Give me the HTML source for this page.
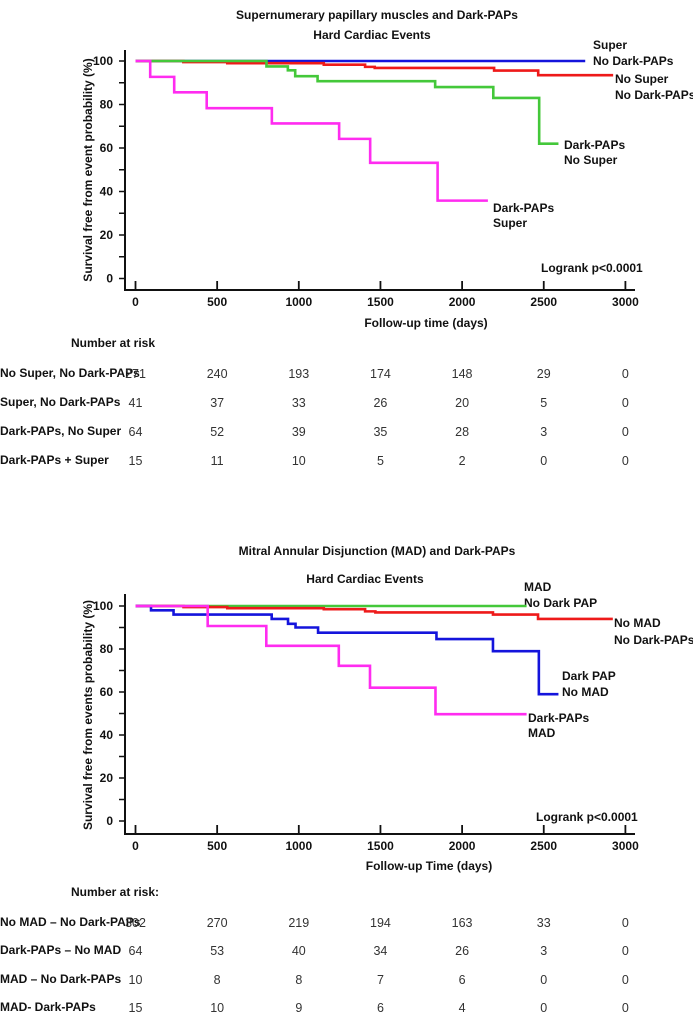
<!DOCTYPE html>
<html><head><meta charset="utf-8"><style>
body{margin:0;background:#fff}
svg{display:block;font-family:"Liberation Sans",Arial,sans-serif}
.b{font-weight:bold;font-size:12px;fill:#111}
.n{font-size:12.5px;fill:#333}
</style></head><body>
<svg id="svg" width="693" height="1014" viewBox="0 0 693 1014">
<text class="b" x="377" y="19" text-anchor="middle">Supernumerary papillary  muscles and Dark-PAPs</text>
<text class="b" x="372" y="39" text-anchor="middle">Hard Cardiac Events</text>
<text class="b" x="0" y="0" transform="translate(92,170) rotate(-90)" text-anchor="middle">Survival free from event probability (%)</text>
<text class="b" x="426" y="327" text-anchor="middle">Follow-up time (days)</text>
<text class="b" x="541" y="272">Logrank p&lt;0.0001</text>
<g class="b">
<text x="593" y="49">Super</text>
<text x="593" y="65">No Dark-PAPs</text>
<text x="615" y="83">No Super</text>
<text x="615" y="99">No Dark-PAPs</text>
<text x="564" y="149">Dark-PAPs</text>
<text x="564" y="164">No Super</text>
<text x="493" y="212">Dark-PAPs</text>
<text x="493" y="227">Super</text>
</g>
<text class="b" x="113" y="347" text-anchor="middle">Number at risk</text>

<text class="b" x="377" y="555" text-anchor="middle">Mitral Annular Disjunction (MAD) and Dark-PAPs</text>
<text class="b" x="365" y="583" text-anchor="middle">Hard Cardiac Events</text>
<text class="b" x="0" y="0" transform="translate(92,715) rotate(-90)" text-anchor="middle">Survival free from events probability (%)</text>
<text class="b" x="429" y="870" text-anchor="middle">Follow-up Time (days)</text>
<text class="b" x="536" y="821">Logrank p&lt;0.0001</text>
<g class="b">
<text x="524" y="591">MAD</text>
<text x="524" y="607">No Dark PAP</text>
<text x="614" y="627">No MAD</text>
<text x="614" y="644">No Dark-PAPs</text>
<text x="562" y="680">Dark PAP</text>
<text x="562" y="696">No MAD</text>
<text x="528" y="722">Dark-PAPs</text>
<text x="528" y="737">MAD</text>
</g>
<text class="b" x="115" y="896" text-anchor="middle">Number at risk:</text>
</svg>
<script>
// ---- data: top chart ----
const xTicks = [0, 500, 1000, 1500, 2000, 2500, 3000];
const yTicks = [0, 20, 40, 60, 80, 100];
const topNames = ["super-no-dark", "nosuper-nodark", "dark-nosuper", "dark-super"];
const topColors = ["#1414dc", "#ee1a1a", "#44c83a", "#ff2cf0"];
const topTimes = [
  [0, 2754],
  [0, 293, 562, 1153, 1406, 1465, 2196, 2466, 2925],
  [0, 802, 933, 978, 1115, 1835, 2191, 2472, 2590],
  [0, 90, 237, 436, 835, 1247, 1437, 1850, 2158]
];
const topSurv = [
  [100, 100],
  [100, 99.5, 99, 98.3, 97.3, 96.8, 95.6, 93.5, 93.5],
  [100, 97.5, 95.7, 93, 90.7, 88, 83, 62, 62],
  [100, 92.7, 85.6, 78.3, 71.3, 64.2, 53.2, 35.8, 35.8]
];
const topRiskLabels = ["No Super, No Dark-PAPs", "Super, No Dark-PAPs", "Dark-PAPs, No Super", "Dark-PAPs + Super"];
const topRisk = [
  [271, 240, 193, 174, 148, 29, 0],
  [41, 37, 33, 26, 20, 5, 0],
  [64, 52, 39, 35, 28, 3, 0],
  [15, 11, 10, 5, 2, 0, 0]
];
// ---- data: bottom chart ----
const botNames = ["mad-nodark", "nomad-nodark", "dark-nomad", "dark-mad"];
const botColors = ["#44c83a", "#ee1a1a", "#1414dc", "#ff2cf0"];
const botTimes = [
  [0, 2395],
  [0, 294, 562, 1153, 1406, 1469, 2189, 2465, 2923],
  [0, 95, 233, 834, 934, 980, 1118, 1843, 2189, 2470, 2590],
  [0, 442, 801, 1245, 1436, 1837, 2395]
];
const botSurv = [
  [100, 100],
  [100, 99.5, 99, 98.5, 97.5, 97, 96, 94, 94],
  [100, 98, 96, 94, 91.7, 90, 87.6, 84.6, 79, 59, 59],
  [100, 90.7, 81.5, 72.2, 62, 49.7, 49.7]
];
const botRiskLabels = ["No MAD \u2013 No Dark-PAPs", "Dark-PAPs \u2013 No MAD", "MAD \u2013 No Dark-PAPs", "MAD- Dark-PAPs"];
const botRisk = [
  [302, 270, 219, 194, 163, 33, 0],
  [64, 53, 40, 34, 26, 3, 0],
  [10, 8, 8, 7, 6, 0, 0],
  [15, 10, 9, 6, 4, 0, 0]
];

const NS = "http://www.w3.org/2000/svg";
const svg = document.getElementById("svg");
function mk(tag, attrs, parent) {
  const e = document.createElementNS(NS, tag);
  for (const k in attrs) e.setAttribute(k, attrs[k]);
  (parent || svg).appendChild(e);
  return e;
}
function xScale(d) { return 135.5 + d * 0.1633; }

function drawChart(prefix, y0, yTop, axisY, times, surv, colors, names, riskLabels, risk, riskRows) {
  const yScale = v => y0 - (y0 - yTop) * v / 100;
  const g = mk("g", {});
  
  
  // axes
  const ya = mk("line", {x1: 125, x2: 125, y1: axisY - 240, y2: axisY + 1, stroke: "#111", "stroke-width": 2}, g);
  
  
  const xa = mk("line", {x1: 124, x2: 635, y1: axisY, y2: axisY, stroke: "#111", "stroke-width": 2}, g);
  
  
  for (let v = 0; v <= 100; v += 10) {
    const t = mk("line", {x1: 119, x2: 125, y1: yScale(v), y2: yScale(v), stroke: "#111", "stroke-width": 1.5}, g);
    
    
  }
  yTicks.forEach(v => {
    const t = mk("text", {x: 113, y: yScale(v) + 4, "text-anchor": "end", class: "b"}, g);
    t.textContent = v;
    
    
  });
  xTicks.forEach(d => {
    const t = mk("line", {x1: xScale(d), x2: xScale(d), y1: axisY - 9, y2: axisY, stroke: "#111", "stroke-width": 1.8}, g);
    
    
    const l = mk("text", {x: xScale(d), y: axisY + 16, "text-anchor": "middle", class: "b"}, g);
    l.textContent = d;
    
    
  });
  // curves
  times.forEach((ts, i) => {
    let dStr = "M" + xScale(ts[0]) + " " + yScale(surv[i][0]);
    for (let k = 1; k < ts.length; k++) {
      dStr += " H" + xScale(ts[k]) + " V" + yScale(surv[i][k]);
    }
    const p = mk("path", {d: dStr, fill: "none", stroke: colors[i], "stroke-width": 2.6}, g);
    
    
  });
  // risk table
  riskLabels.forEach((lab, r) => {
    const t = mk("text", {x: 0, y: riskRows[r] + 4, class: "b"}, g);
    t.textContent = lab;
    
    
    risk[r].forEach((n, c) => {
      const v = mk("text", {x: xScale(xTicks[c]), y: riskRows[r] + 5, "text-anchor": "middle", class: "n"}, g);
      v.textContent = n;
      
      
    });
  });
}
drawChart("top", 278.5, 61, 290, topTimes, topSurv, topColors, topNames, topRiskLabels, topRisk, [373, 402, 431, 460]);
drawChart("bottom", 821, 606, 834, botTimes, botSurv, botColors, botNames, botRiskLabels, botRisk, [922, 950, 979, 1007]);
</script>
</body></html>
